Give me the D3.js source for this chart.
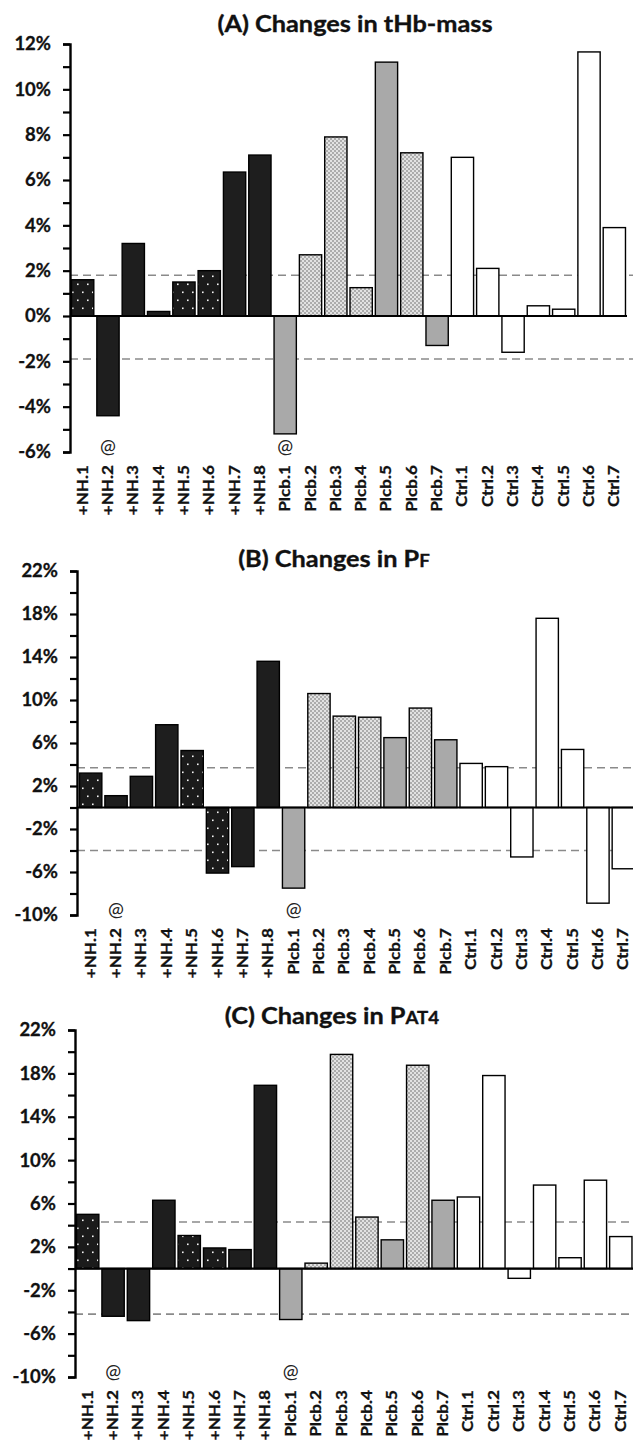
<!DOCTYPE html>
<html>
<head>
<meta charset="utf-8">
<script src="https://cdn.jsdelivr.net/npm/d3@7"></script>
<style>
  body { margin: 0; background: #fff; }
  svg { display: block; }
  text { font-family: Lato, "Open Sans", sans-serif; }
</style>
</head>
<body>
<svg id="chart" width="633" height="1441"></svg>
<script>
// Participants, in plotting order
const subjects = ["+NH.1","+NH.2","+NH.3","+NH.4","+NH.5","+NH.6","+NH.7","+NH.8",
  "Plcb.1","Plcb.2","Plcb.3","Plcb.4","Plcb.5","Plcb.6","Plcb.7",
  "Ctrl.1","Ctrl.2","Ctrl.3","Ctrl.4","Ctrl.5","Ctrl.6","Ctrl.7"];

// Bar fill style per participant
const fillStyle = ["dots","black","black","black","dots","dots","black","black",
  "gray","check","check","check","gray","check","gray",
  "white","white","white","white","white","white","white"];

// Participants marked with "@"
const flagged = ["+NH.2","Plcb.1"];

// % change values
const tHbMass = [1.6,-4.4,3.2,0.2,1.5,2.0,6.35,7.1,-5.2,2.7,7.9,1.25,11.2,7.2,-1.3,7.0,2.1,-1.6,0.45,0.3,11.65,3.9];
const pF      = [3.2,1.1,2.9,7.7,5.3,-6.1,-5.5,13.6,-7.5,10.6,8.5,8.4,6.5,9.25,6.3,4.1,3.8,-4.6,17.6,5.4,-8.9,-5.7];
const pAT4    = [5.0,-4.4,-4.8,6.3,3.05,1.9,1.75,16.9,-4.7,0.5,19.75,4.75,2.65,18.75,6.3,6.6,17.8,-0.9,7.7,1.0,8.15,2.95];

// Dashed reference bands (upper, lower)
const refTHb = [1.8, -1.9];
const refPF  = [3.7, -4.0];
const refPAT4 = [4.3, -4.2];

// Axis ticks
const majorTicksA = [-6,-4,-2,0,2,4,6,8,10,12];
const minorTicksA = [-5,-3,-1,1,3,5,7,9,11];
const majorTicksBC = [-10,-6,-2,2,6,10,14,18,22];
const minorTicksBC = [-8,-4,0,4,8,12,16,20];

const panels = [
  { title: ["(A) Changes in tHb-mass", ""], values: tHbMass, ref: refTHb,
    domain: [-6, 12], major: majorTicksA, minor: minorTicksA,
    top: 44, bottom: 452, axisX: 70, band: [70, 627], titleX: 355, titleY: 32 },
  { title: ["(B) Changes in P", "F"], values: pF, ref: refPF,
    domain: [-10, 22], major: majorTicksBC, minor: minorTicksBC,
    top: 571, bottom: 915, axisX: 77, band: [78, 636], titleX: 334, titleY: 567 },
  { title: ["(C) Changes in P", "AT4"], values: pAT4, ref: refPAT4,
    domain: [-10, 22], major: majorTicksBC, minor: minorTicksBC,
    top: 1030, bottom: 1377, axisX: 75, band: [75, 633.5], titleX: 332, titleY: 1024 }
];

const svg = d3.select("#chart");
const defs = svg.append("defs");

// Black with white dots
const pDots = defs.append("pattern").attr("id", "pat-dots")
  .attr("patternUnits", "userSpaceOnUse").attr("width", 10).attr("height", 16);
pDots.append("rect").attr("width", 10).attr("height", 16).attr("fill", "#1b1b1b");
pDots.append("rect").attr("x", 2).attr("y", 3.5).attr("width", 1.6).attr("height", 1.6).attr("fill", "#f4f4f4");
pDots.append("rect").attr("x", 7).attr("y", 11.5).attr("width", 1.6).attr("height", 1.6).attr("fill", "#f4f4f4");

// Light grey checker
const pCheck = defs.append("pattern").attr("id", "pat-check")
  .attr("patternUnits", "userSpaceOnUse").attr("width", 4).attr("height", 4);
pCheck.append("rect").attr("width", 4).attr("height", 4).attr("fill", "#e2e2e2");
pCheck.append("rect").attr("width", 2).attr("height", 2).attr("fill", "#acacac");
pCheck.append("rect").attr("x", 2).attr("y", 2).attr("width", 2).attr("height", 2).attr("fill", "#acacac");

const fills = {
  dots: "url(#pat-dots)",
  black: "#1e1e1e",
  gray: "#a9a9a9",
  check: "url(#pat-check)",
  white: "#ffffff"
};

panels.forEach(p => {
  const g = svg.append("g");
  const x = d3.scaleBand().domain(subjects).range(p.band).paddingInner(0.12).paddingOuter(0.06);
  const y = d3.scaleLinear().domain(p.domain).range([p.bottom, p.top]);

  // Title (slightly widened face)
  const t = g.append("text")
    .attr("transform", `translate(${p.titleX},${p.titleY}) scale(1.1,1)`)
    .attr("text-anchor", "middle")
    .attr("font-size", 23).attr("font-weight", 700).attr("fill", "#111")
    .attr("stroke", "#111").attr("stroke-width", 0.35);
  t.append("tspan").text(p.title[0]);
  if (p.title[1]) t.append("tspan").attr("font-size", 17).text(p.title[1]);

  // Dashed reference lines
  g.selectAll("line.ref").data(p.ref).join("line")
    .attr("x1", p.axisX).attr("x2", 633)
    .attr("y1", d => y(d)).attr("y2", d => y(d))
    .attr("stroke", "#8a8a8a").attr("stroke-width", 1.6)
    .attr("stroke-dasharray", "8,5");

  // Bars
  g.selectAll("rect.bar").data(p.values).join("rect")
    .attr("x", (d, i) => x(subjects[i]))
    .attr("width", x.bandwidth())
    .attr("y", d => y(Math.max(0, d)))
    .attr("height", d => Math.abs(y(d) - y(0)))
    .attr("fill", (d, i) => fills[fillStyle[i]])
    .attr("stroke", "#000").attr("stroke-width", 1.4);

  // Zero line
  g.append("line")
    .attr("x1", p.axisX).attr("x2", p.band[1])
    .attr("y1", y(0)).attr("y2", y(0))
    .attr("stroke", "#000").attr("stroke-width", 2.2);

  // Y axis with labelled major ticks
  const yAxis = d3.axisLeft(y).tickValues(p.major).tickSize(7).tickPadding(12)
    .tickFormat(d => d + "%");
  const ag = g.append("g").attr("transform", `translate(${p.axisX},0)`).call(yAxis);
  ag.select(".domain").attr("stroke", "#000").attr("stroke-width", 2.4);
  ag.selectAll(".tick line").attr("stroke", "#000").attr("stroke-width", 2.2);
  ag.selectAll(".tick text")
    .attr("font-family", "Lato, sans-serif")
    .attr("font-size", 18.5).attr("font-weight", 700).attr("fill", "#111")
    .attr("stroke", "#111").attr("stroke-width", 0.3);

  // Minor ticks
  const mg = g.append("g").attr("transform", `translate(${p.axisX},0)`)
    .call(d3.axisLeft(y).tickValues(p.minor).tickSize(7).tickFormat(""));
  mg.select(".domain").remove();
  mg.selectAll(".tick line").attr("stroke", "#000").attr("stroke-width", 2.2);

  // Category labels, rotated, below the plot
  g.selectAll("text.cat").data(subjects).join("text")
    .attr("transform", d => `translate(${x(d) + x.bandwidth() / 2 + 5},${p.bottom + 13}) rotate(-90) scale(1.18,1)`)
    .attr("text-anchor", "end")
    .attr("font-size", 14.5).attr("font-weight", 700).attr("fill", "#111")
    .attr("stroke", "#111").attr("stroke-width", 0.3)
    .text(d => d);

  // "@" markers
  g.selectAll("text.flag").data(flagged).join("text")
    .attr("x", d => x(d) + x.bandwidth() / 2)
    .attr("y", p.bottom + 1)
    .attr("text-anchor", "middle")
    .attr("font-size", 19).attr("fill", "#222")
    .text("@");
});
</script>
</body>
</html>
